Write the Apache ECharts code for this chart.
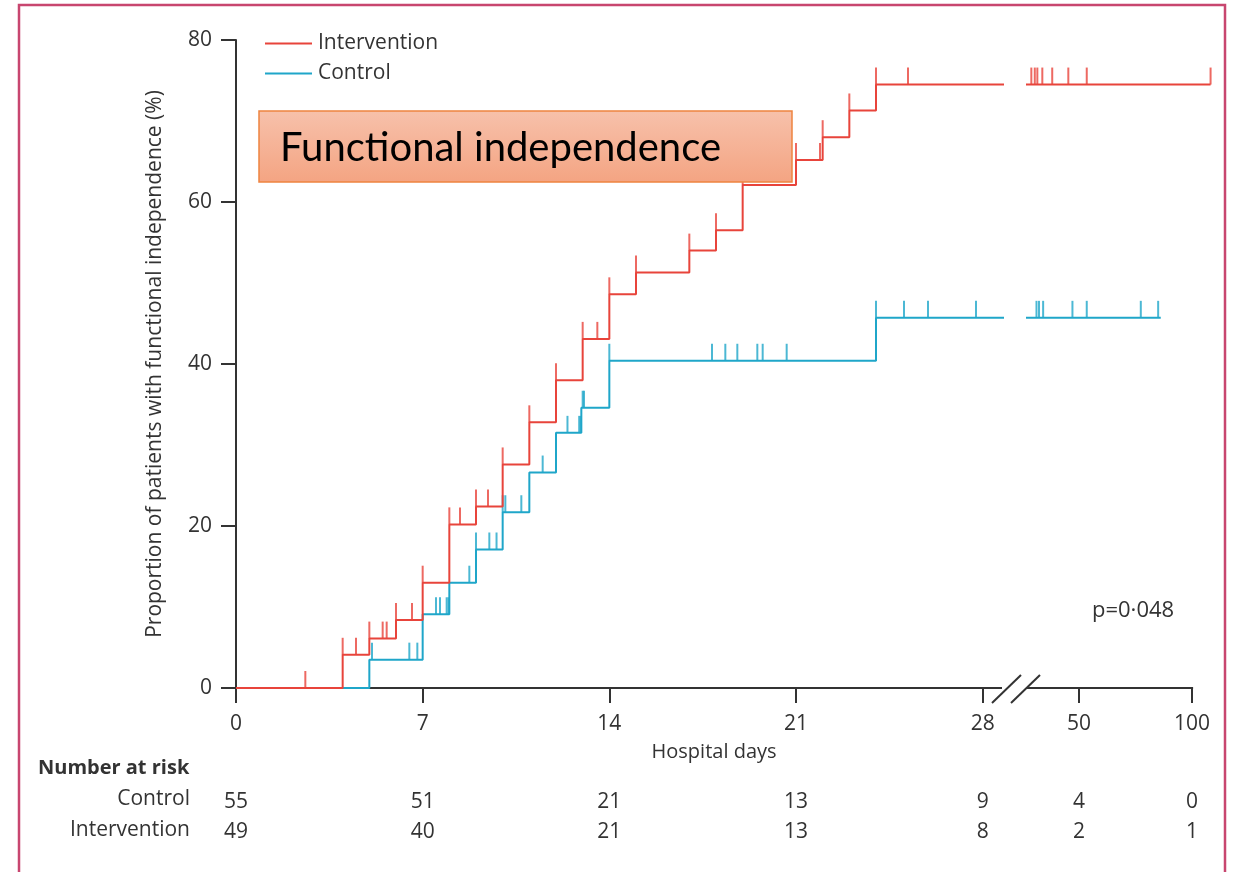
<!DOCTYPE html>
<html>
<head>
<meta charset="utf-8">
<script src="https://cdn.jsdelivr.net/npm/echarts@6/dist/echarts.min.js"></script>
<style>
  html, body { margin: 0; padding: 0; background: #ffffff; }
  #chart { width: 1233px; height: 872px; }
</style>
</head>
<body>
<div id="chart"></div>
<script>
// Cumulative proportion with functional independence (%), [day, value after the event]
const interventionSteps = [[0, 0], [4, 4.1], [5, 6.1], [6, 8.4], [7, 13.0], [8, 20.2], [9, 22.4], [10, 27.6],
  [11, 32.8], [12, 38.0], [13, 43.1], [14, 48.6], [15, 51.3], [17, 54.0], [18, 56.5], [19, 62.1],
  [21, 65.2], [22, 68.0], [23, 71.3], [24, 74.5]];
const controlSteps = [[0, 0], [5, 3.5], [7, 9.1], [8, 13.0], [9, 17.1], [10, 21.7], [11, 26.6],
  [12, 31.5], [12.95, 34.6], [14, 40.4], [24, 45.7]];

// Censored observations (hospital day), up to day 28
const interventionCensoredDays = [2.6, 4, 4.5, 5, 5.5, 5.65, 6, 6.6, 7, 8, 8.4, 9, 9.45, 10, 11, 12, 13,
  13.55, 14, 15, 17, 18, 19, 21, 21.9, 22, 23, 24, 25.2];
const controlCensoredDays = [5.1, 6.5, 6.8, 7.5, 7.65, 7.9, 7.97, 8.75, 9, 9.5, 9.77, 10, 10.1, 10.7, 11.5,
  12.43, 12.87, 12.93, 13.0, 13.05, 14, 17.85, 18.35, 18.8, 19.55, 19.75, 20.65, 24, 25.05, 25.95, 27.75];

// Censored observations after day 28
const interventionLateCensoredDays = [37.3, 38.1, 38.7, 39.9, 42.4, 46.8, 52.4, 112];
const controlLateCensoredDays = [38.5, 39.1, 40.1, 48.0, 52.4, 73.0, 81.2];
const interventionLastDay = 112;
const controlLastDay = 82.5;

// Axis ticks
const earlyTicks = [0, 7, 14, 21, 28];
const lateTicks = [50, 100];
const yTicksInterval = 20;

// Number at risk
const riskDays = [0, 7, 14, 21, 28, 50, 100];
const riskControl = [55, 51, 21, 13, 9, 4, 0];
const riskIntervention = [49, 40, 21, 13, 8, 2, 1];

// ---------------------------------------------------------------
const RED = '#e8443b';
const BLUE = '#1fa6c9';
const INK = '#333333';
const FONT = '"Open Sans", "Noto Sans", sans-serif';

// broken x axis: linear 0..earlyMax, then log-scaled lateMin..lateMax
const earlyMax = 28.8;
const lateMin = 36.1;
const lateAxisEnd = 100;          // last labelled day, where the drawn axis line stops
const lateMax = 112.5;            // plotting room to the right of the last tick
const lg = d => Math.log10(d);

function levelAt(steps, day) {
  let v = 0;
  for (const [d, p] of steps) { if (d <= day) v = p; }
  return v;
}
const lastLevel = steps => steps[steps.length - 1][1];

const interventionEarlyLine = interventionSteps.concat([[earlyMax, lastLevel(interventionSteps)]]);
const controlEarlyLine = controlSteps.concat([[earlyMax, lastLevel(controlSteps)]]);
const interventionLateLine = [[lg(lateMin), lastLevel(interventionSteps)], [lg(interventionLastDay), lastLevel(interventionSteps)]];
const controlLateLine = [[lg(lateMin), lastLevel(controlSteps)], [lg(controlLastDay), lastLevel(controlSteps)]];

const censorEarly = (days, steps) => days.map(d => [d, levelAt(steps, d)]);
const censorLate = (days, steps) => days.map(d => [lg(d), levelAt(steps, d)]);

const axisLineStyle = { color: INK, width: 2 };

function lineSeries(name, data, color, axisIdx) {
  return {
    name, type: 'line', step: 'end', data,
    xAxisIndex: axisIdx, yAxisIndex: axisIdx,
    symbol: 'none', clip: false,
    lineStyle: { color, width: 2 },
    itemStyle: { color },
    emphasis: { disabled: true }, silent: true
  };
}
function censorSeries(name, data, color, axisIdx) {
  return {
    name, type: 'scatter', data,
    xAxisIndex: axisIdx, yAxisIndex: axisIdx,
    symbol: 'rect', symbolSize: [2, 17], symbolOffset: [0, -8.5],
    clip: false,
    itemStyle: { color },
    emphasis: { disabled: true }, silent: true
  };
}

// pixel scale of the late (log) segment: 50 and 100 sit 113 px apart
const lateLeft = 1026;
const latePxPerDecade = 113 / Math.log10(2);
const lateWidth = (lg(lateMax) - lg(lateMin)) * latePxPerDecade;

const chart = echarts.init(document.getElementById('chart'), null, { renderer: 'canvas' });

const option = {
  animation: false,
  backgroundColor: '#ffffff',
  textStyle: { fontFamily: FONT, color: INK },
  legend: {
    data: ['Intervention', 'Control'],
    orient: 'vertical',
    left: 260, top: 28,
    icon: 'rect', itemWidth: 47, itemHeight: 2, itemGap: 9,
    textStyle: { fontSize: 21, color: INK, fontFamily: FONT, padding: [0, 0, 0, 1] },
    selectedMode: false
  },
  grid: [
    { left: 236, top: 40, width: 1004 - 236, height: 648 },
    { left: lateLeft, top: 40, width: lateWidth, height: 648 }
  ],
  xAxis: [
    {
      type: 'value', gridIndex: 0, min: 0, max: earlyMax,
      axisLine: { lineStyle: axisLineStyle },
      axisTick: { length: 15, lineStyle: axisLineStyle, customValues: earlyTicks },
      axisLabel: { customValues: earlyTicks, margin: 26, fontSize: 21, color: INK, fontFamily: FONT },
      splitLine: { show: false }
    },
    {
      type: 'value', gridIndex: 1, min: lg(lateMin), max: lg(lateMax),
      axisLine: { show: false },
      axisTick: { show: true, length: 15, lineStyle: axisLineStyle, customValues: lateTicks.map(lg) },
      axisLabel: {
        customValues: lateTicks.map(lg), margin: 26, fontSize: 21, color: INK, fontFamily: FONT,
        formatter: v => String(Math.round(Math.pow(10, v)))
      },
      splitLine: { show: false }
    }
  ],
  yAxis: [
    {
      type: 'value', gridIndex: 0, min: 0, max: 80, interval: yTicksInterval,
      name: 'Proportion of patients with functional independence (%)',
      nameLocation: 'middle', nameGap: 70,
      nameTextStyle: { fontSize: 21, color: INK, fontFamily: FONT },
      axisLine: { show: true, lineStyle: axisLineStyle },
      axisTick: { show: true, length: 15, lineStyle: axisLineStyle },
      axisLabel: { margin: 24, fontSize: 21, color: INK, fontFamily: FONT },
      splitLine: { show: false }
    },
    { type: 'value', gridIndex: 1, min: 0, max: 80, show: false }
  ],
  series: [
    lineSeries('Control', controlEarlyLine, BLUE, 0),
    lineSeries('Control', controlLateLine, BLUE, 1),
    censorSeries('Control censored', censorEarly(controlCensoredDays, controlSteps), BLUE, 0),
    censorSeries('Control censored late', censorLate(controlLateCensoredDays, controlSteps), BLUE, 1),
    lineSeries('Intervention', interventionEarlyLine, RED, 0),
    lineSeries('Intervention', interventionLateLine, RED, 1),
    censorSeries('Intervention censored', censorEarly(interventionCensoredDays, interventionSteps), RED, 0),
    censorSeries('Intervention censored late', censorLate(interventionLateCensoredDays, interventionSteps), RED, 1)
  ]
};
chart.setOption(option);

// Annotations positioned through the axes
const xAt = d => d <= earlyMax
  ? chart.convertToPixel({ xAxisIndex: 0 }, d)
  : chart.convertToPixel({ xAxisIndex: 1 }, lg(d));
const y0 = chart.convertToPixel({ yAxisIndex: 0 }, 0);
const gapL = chart.convertToPixel({ xAxisIndex: 0 }, earlyMax);

const txt = (text, x, y, extra) => ({
  type: 'text', z: 50, silent: true,
  style: Object.assign({ text, x, y, fill: INK, font: '21px ' + FONT, textAlign: 'center', textVerticalAlign: 'middle' }, extra || {})
});

const graphics = [
  // page frame
  { type: 'rect', z: 60, silent: true, shape: { x: 19, y: 5, width: 1206, height: 900 },
    style: { fill: 'none', stroke: '#c8466f', lineWidth: 2.5 } },
  // late segment of the x axis line, ending at the last labelled day
  { type: 'line', z: 40, silent: true,
    shape: { x1: xAt(lateMin) - 1, y1: y0, x2: xAt(lateAxisEnd) + 1, y2: y0 },
    style: { stroke: INK, lineWidth: 2 } },
  // axis break marks
  { type: 'rect', z: 40, silent: true, shape: { x: gapL - 2, y: y0 - 3, width: 24, height: 6 }, style: { fill: '#ffffff' } },
  { type: 'line', z: 41, silent: true, shape: { x1: gapL - 12, y1: y0 + 15, x2: gapL + 17, y2: y0 - 13 },
    style: { stroke: INK, lineWidth: 2 } },
  { type: 'line', z: 41, silent: true, shape: { x1: gapL + 7, y1: y0 + 15, x2: gapL + 36, y2: y0 - 13 },
    style: { stroke: INK, lineWidth: 2 } },
  // highlighted caption box
  { type: 'rect', z: 70, silent: true, shape: { x: 259, y: 111, width: 533, height: 71 },
    style: {
      fill: new echarts.graphic.LinearGradient(0, 0, 0, 1, [
        { offset: 0, color: '#f7c1ab' }, { offset: 1, color: '#f4a482' }
      ]),
      stroke: '#ee8440', lineWidth: 1.5
    } },
  { type: 'text', z: 71, silent: true,
    style: { text: 'Functional independence', x: 280, y: 148, fill: '#000000',
      font: '40px Lato, "Open Sans", sans-serif', textAlign: 'left', textVerticalAlign: 'middle' } },
  // p value
  txt('p=0·048', 1092, 611, { textAlign: 'left', font: '22px ' + FONT }),
  // x axis title
  txt('Hospital days', (xAt(0) + xAt(100)) / 2, 752, { font: '20px ' + FONT }),
  // number at risk
  txt('Number at risk', 38, 768, { textAlign: 'left', font: 'bold 20px ' + FONT }),
  txt('Control', 190, 799, { textAlign: 'right' }),
  txt('Intervention', 190, 830, { textAlign: 'right' })
];
riskDays.forEach((d, i) => {
  graphics.push(txt(String(riskControl[i]), xAt(d), 802));
  graphics.push(txt(String(riskIntervention[i]), xAt(d), 832));
});

chart.setOption({ graphic: graphics });
</script>
</body>
</html>
